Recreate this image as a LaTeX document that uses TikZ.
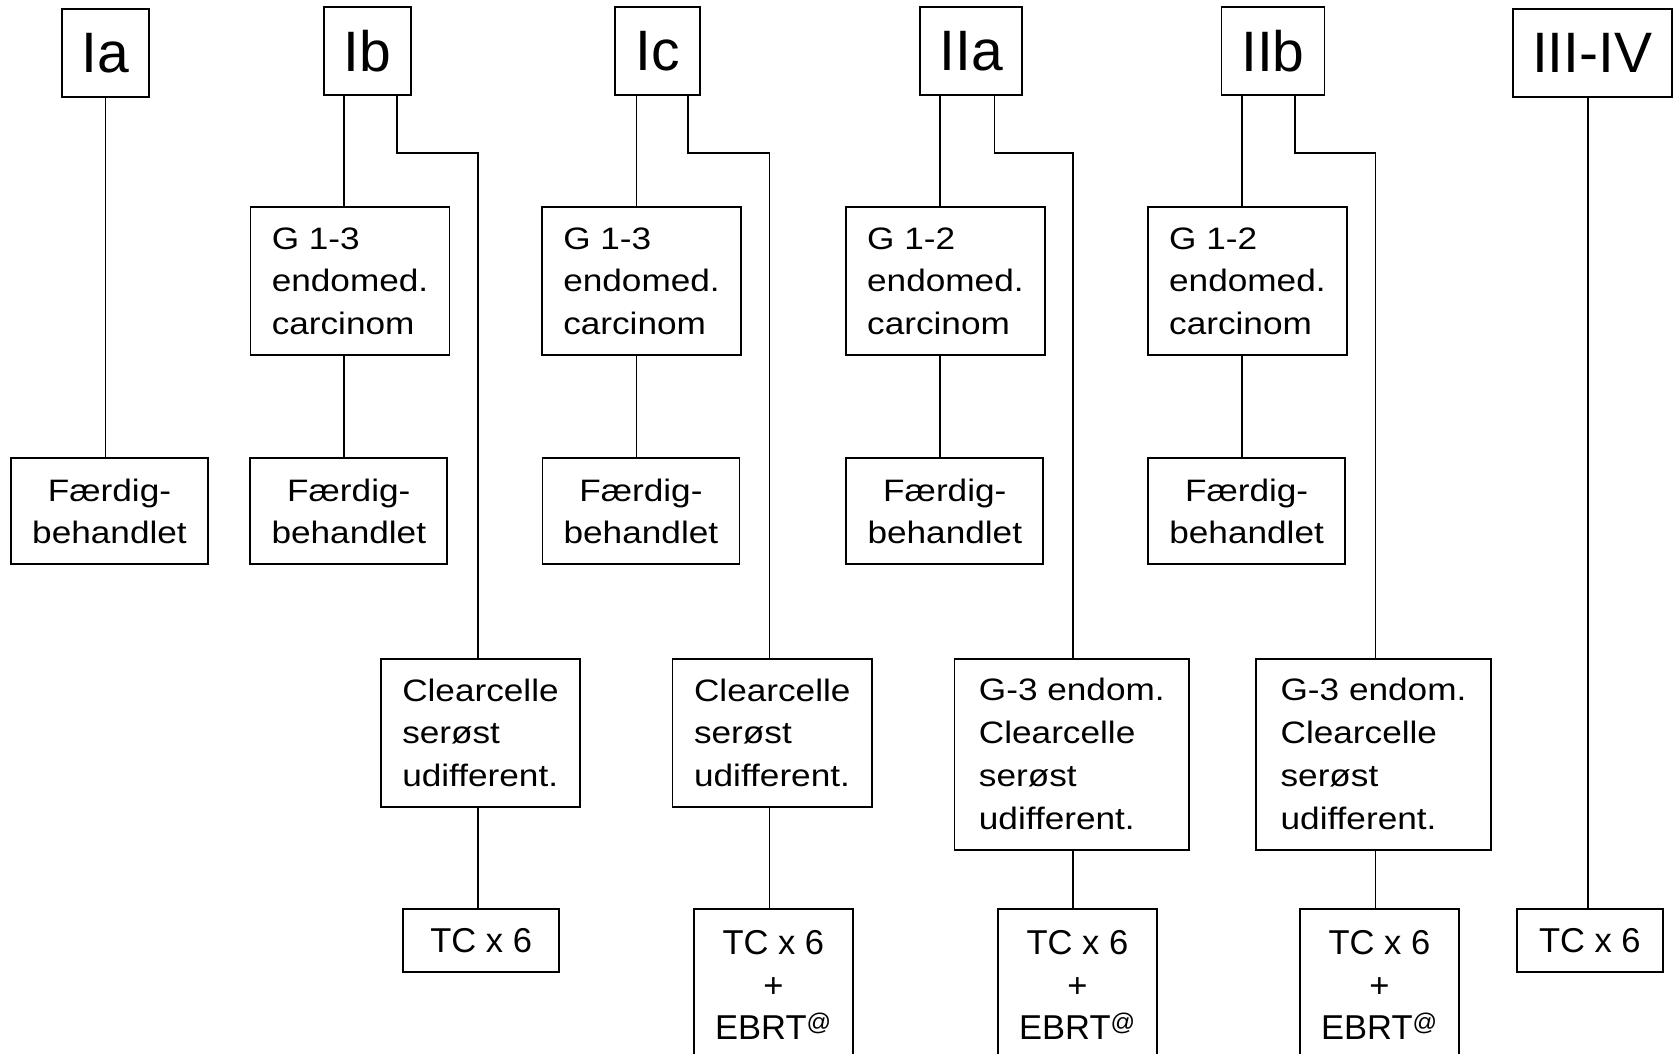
\documentclass[tikz,border=0pt]{standalone}
\usepackage{fontspec}
\setmainfont{Liberation Sans}
\newfontfamily\bodyfont[FakeStretch=1.135]{Liberation Sans}
\newfontfamily\labfont{Liberation Sans}
\usetikzlibrary{calc}
\begin{document}
\begin{tikzpicture}[x=1pt,y=-1pt,
  boxbase/.style={draw, line width=1.8pt, inner sep=0pt},
  stagebox/.style={boxbase, font=\labfont\fontsize{57}{60}\selectfont, minimum height=88pt},
  gradebox/.style={boxbase, align=left, font=\bodyfont\fontsize{31}{42.5}\selectfont, minimum width=199pt, minimum height=148.6pt},
  donebox/.style={boxbase, align=center, font=\bodyfont\fontsize{31}{42}\selectfont, minimum width=197pt, minimum height=106pt},
  histbox/.style={boxbase, align=left, font=\bodyfont\fontsize{31}{42.7}\selectfont, minimum width=199.7pt, minimum height=148.3pt},
  histbigbox/.style={boxbase, align=left, font=\bodyfont\fontsize{31}{43}\selectfont, minimum width=234.6pt, minimum height=191.3pt},
  treatbox/.style={boxbase, align=center, font=\labfont\fontsize{34.5}{42.7}\selectfont},
  conn/.style={line width=1.6pt}]
\useasboundingbox (0,0) rectangle (1675,1053);
\clip (0,0) rectangle (1675,1053);

% stage boxes
\node[stagebox, minimum width=87.1pt] (Ia) at (105.4,53.2) {Ia};
\node[stagebox, minimum width=87.1pt] (Ib) at (367.2,50.9) {Ib};
\node[stagebox, minimum width=84.4pt] (Ic) at (657.5,51.2) {Ic};
\node[stagebox, minimum width=102.6pt] (IIa) at (971.0,51.2) {IIa};
\node[stagebox, minimum width=103pt] (IIb) at (1272.9,50.9) {IIb};
\node[stagebox, minimum width=158.8pt] (III) at (1592.3,53.2) {III-IV};

% grade boxes
\node[gradebox] (G1) at (350.0,281) {G 1-3\\endomed.\\carcinom};
\node[gradebox] (G2) at (641.5,281) {G 1-3\\endomed.\\carcinom};
\node[gradebox] (G3) at (945.4,281) {G 1-2\\endomed.\\carcinom};
\node[gradebox] (G4) at (1247.4,281) {G 1-2\\endomed.\\carcinom};

% finished boxes
\node[donebox] (F0) at (109.5,511.2) {Færdig-\\behandlet};
\node[donebox] (F1) at (348.8,511.2) {Færdig-\\behandlet};
\node[donebox] (F2) at (640.9,511.2) {Færdig-\\behandlet};
\node[donebox] (F3) at (944.8,511.2) {Færdig-\\behandlet};
\node[donebox] (F4) at (1246.6,511.2) {Færdig-\\behandlet};

% histology boxes
\node[histbox] (C1) at (480.5,732.9) {Clearcelle\\serøst\\udifferent.};
\node[histbox] (C2) at (772.3,732.9) {Clearcelle\\serøst\\udifferent.};
\node[histbigbox] (D3) at (1071.8,754.4) {G-3 endom.\\Clearcelle\\serøst\\udifferent.};
\node[histbigbox] (D4) at (1373.5,754.4) {G-3 endom.\\Clearcelle\\serøst\\udifferent.};

% treatment boxes
\node[treatbox, minimum width=156pt, minimum height=63pt] (T1) at (481.2,940.5) {TC x 6};
\node[treatbox, minimum width=159.6pt, minimum height=152pt] (T2) at (773.4,985) {TC x 6\\+\\EBRT\textsuperscript{@}};
\node[treatbox, minimum width=159.1pt, minimum height=152pt] (T3) at (1077.4,985) {TC x 6\\+\\EBRT\textsuperscript{@}};
\node[treatbox, minimum width=159.1pt, minimum height=152pt] (T4) at (1379.4,985) {TC x 6\\+\\EBRT\textsuperscript{@}};
\node[treatbox, minimum width=145.8pt, minimum height=63pt] (T5) at (1589.8,940.5) {TC x 6};

% Ia
\draw[conn] (Ia.south) -- (Ia.south |- F0.north);

% Ib
\coordinate (ibL) at ($(Ib.south west)+(21.4,0)$);
\coordinate (ibR) at ($(Ib.south east)+(-14.7,0)$);
\coordinate (ibK) at (477.8,153);
\draw[conn] (ibL) -- (ibL |- G1.north);
\draw[conn] (ibL |- G1.south) -- (ibL |- F1.north);
\draw[conn] (ibR) |- (ibK) -- (ibK |- C1.north);
\draw[conn] (ibK |- C1.south) -- (ibK |- T1.north);

% Ic
\coordinate (icL) at ($(Ic.south west)+(22.0,0)$);
\coordinate (icR) at ($(Ic.south east)+(-12.8,0)$);
\coordinate (icK) at (769.3,153);
\draw[conn] (icL) -- (icL |- G2.north);
\draw[conn] (icL |- G2.south) -- (icL |- F2.north);
\draw[conn] (icR) |- (icK) -- (icK |- C2.north);
\draw[conn] (icK |- C2.south) -- (icK |- T2.north);

% IIa
\coordinate (iiaL) at ($(IIa.south west)+(21.0,0)$);
\coordinate (iiaR) at ($(IIa.south east)+(-28.9,0)$);
\coordinate (iiaK) at (1072.8,153);
\draw[conn] (iiaL) -- (iiaL |- G3.north);
\draw[conn] (iiaL |- G3.south) -- (iiaL |- F3.north);
\draw[conn] (iiaR) |- (iiaK) -- (iiaK |- D3.north);
\draw[conn] (iiaK |- D3.south) -- (iiaK |- T3.north);

% IIb
\coordinate (iibL) at ($(IIb.south west)+(21.4,0)$);
\coordinate (iibR) at ($(IIb.south east)+(-30.4,0)$);
\coordinate (iibK) at (1375.4,153);
\draw[conn] (iibL) -- (iibL |- G4.north);
\draw[conn] (iibL |- G4.south) -- (iibL |- F4.north);
\draw[conn] (iibR) |- (iibK) -- (iibK |- D4.north);
\draw[conn] (iibK |- D4.south) -- (iibK |- T4.north);

% III-IV
\coordinate (ivL) at ($(III.south)+(-4.3,0)$);
\draw[conn] (ivL) -- (ivL |- T5.north);
\end{tikzpicture}
\end{document}
